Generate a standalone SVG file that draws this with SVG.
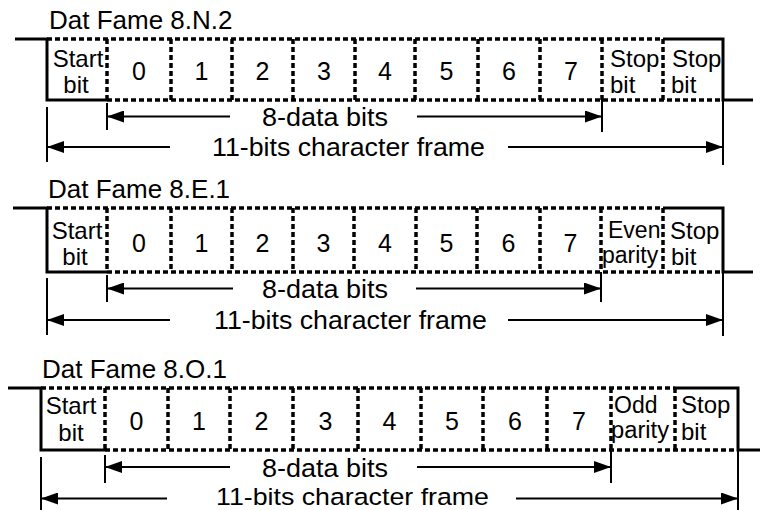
<svg xmlns="http://www.w3.org/2000/svg" width="760" height="510" viewBox="0 0 760 510">
<style>
text{font-family:"Liberation Sans",Arial,sans-serif;fill:#000}
.title{font-size:26px}
.cell{font-size:25px;text-anchor:middle}
.two{font-size:24px;text-anchor:middle}
.lbl{font-size:24px}
.sm{font-size:23px}
.arrlbl{font-size:26px}
.solid{fill:none;stroke:#000;stroke-width:3;stroke-linejoin:miter}
.dash{fill:none;stroke:#000;stroke-width:3.5;stroke-dasharray:5 3}
.arr{fill:none;stroke:#000;stroke-width:2;marker-end:url(#ah)}
.tick{fill:none;stroke:#000;stroke-width:2}
</style>
<defs>
<marker id="ah" markerUnits="userSpaceOnUse" markerWidth="18" markerHeight="12" refX="17" refY="6" orient="auto">
<path d="M0,0 L17,6 L0,12 z" fill="#000"/>
</marker>
</defs>
<rect width="760" height="510" fill="#fff"/>

<!-- Frame 1: 8.N.2 -->
<g id="frame-8N2">
<text class="title" x="49" y="29">Dat Fame 8.N.2</text>
<path class="solid" d="M15,39 H47 V100 H107"/>
<path class="dash" d="M47,39 H663"/>
<path class="solid" d="M663,39 H723 V100 H753"/>
<path class="dash" d="M107,100 H723"/>
<path class="dash" d="M107,39 V100 M171,39 V100 M232,39 V100 M293,39 V100 M355,39 V100 M415,39 V100 M478,39 V100 M540,39 V100 M602,39 V100 M663,39 V100"/>
<text class="two" x="78" y="67">Start</text>
<text class="two" x="76" y="93">bit</text>
<text class="cell" x="139" y="80">0</text>
<text class="cell" x="201.5" y="80">1</text>
<text class="cell" x="262.5" y="80">2</text>
<text class="cell" x="324" y="80">3</text>
<text class="cell" x="385" y="80">4</text>
<text class="cell" x="446.5" y="80">5</text>
<text class="cell" x="509" y="80">6</text>
<text class="cell" x="571" y="80">7</text>
<text class="lbl" x="610" y="67">Stop</text>
<text class="lbl" x="610" y="93">bit</text>
<text class="lbl" x="672" y="67">Stop</text>
<text class="lbl" x="671" y="93">bit</text>
<text class="arrlbl" x="262" y="126" textLength="126" lengthAdjust="spacingAndGlyphs">8-data bits</text>
<text class="arrlbl" x="212" y="156" textLength="273" lengthAdjust="spacingAndGlyphs">11-bits character frame</text>
</g>

<!-- Frame 2: 8.E.1 -->
<g id="frame-8E1">
<text class="title" x="48" y="198">Dat Fame 8.E.1</text>
<path class="solid" d="M13,208 H47 V272 H107"/>
<path class="dash" d="M47,208 H663"/>
<path class="solid" d="M663,208 H723 V272 H753"/>
<path class="dash" d="M107,272 H723"/>
<path class="dash" d="M107,208 V272 M171,208 V272 M232,208 V272 M293,208 V272 M354,208 V272 M416,208 V272 M477,208 V272 M540,208 V272 M601,208 V272 M663,208 V272"/>
<text class="two" x="77" y="239">Start</text>
<text class="two" x="75" y="265">bit</text>
<text class="cell" x="139" y="252">0</text>
<text class="cell" x="201.5" y="252">1</text>
<text class="cell" x="262.5" y="252">2</text>
<text class="cell" x="323.5" y="252">3</text>
<text class="cell" x="385" y="252">4</text>
<text class="cell" x="446.5" y="252">5</text>
<text class="cell" x="508.5" y="252">6</text>
<text class="cell" x="570.5" y="252">7</text>
<text class="sm" x="608" y="238">Even</text>
<text class="sm" x="602" y="263">parity</text>
<text class="lbl" x="670" y="239">Stop</text>
<text class="lbl" x="671" y="265">bit</text>
<text class="arrlbl" x="262" y="298" textLength="126" lengthAdjust="spacingAndGlyphs">8-data bits</text>
<text class="arrlbl" x="214" y="329" textLength="273" lengthAdjust="spacingAndGlyphs">11-bits character frame</text>
</g>

<!-- Frame 3: 8.O.1 -->
<g id="frame-8O1">
<text class="title" x="42" y="378">Dat Fame 8.O.1</text>
<path class="solid" d="M8,388 H41 V450 H105"/>
<path class="dash" d="M41,388 H675"/>
<path class="solid" d="M675,388 H738 V450 H760"/>
<path class="dash" d="M105,450 H738"/>
<path class="dash" d="M105,388 V450 M168,388 V450 M230,388 V450 M293,388 V450 M358,388 V450 M421,388 V450 M483,388 V450 M547,388 V450 M611,388 V450 M675,388 V450"/>
<text class="two" x="71" y="414">Start</text>
<text class="two" x="71" y="441">bit</text>
<text class="cell" x="136.5" y="430">0</text>
<text class="cell" x="199" y="430">1</text>
<text class="cell" x="261.5" y="430">2</text>
<text class="cell" x="325.5" y="430">3</text>
<text class="cell" x="389.5" y="430">4</text>
<text class="cell" x="452" y="430">5</text>
<text class="cell" x="515" y="430">6</text>
<text class="cell" x="579" y="430">7</text>
<text class="sm" x="614" y="413">Odd</text>
<text class="sm" x="611" y="438" textLength="58" lengthAdjust="spacingAndGlyphs">parity</text>
<text class="lbl" x="681" y="413">Stop</text>
<text class="lbl" x="681" y="440">bit</text>
<text class="arrlbl" x="262" y="477" textLength="126" lengthAdjust="spacingAndGlyphs">8-data bits</text>
<text class="arrlbl" x="216" y="505" style="font-size:24.5px" textLength="273" lengthAdjust="spacingAndGlyphs">11-bits character frame</text>
</g>

<!-- Connectors: dimension arrows and ticks -->
<g id="connectors">
<path class="tick" d="M107,103 V130 M47,107 V162 M602,100 V132 M723,100 V165"/>
<line class="arr" x1="230" y1="116.5" x2="107" y2="116.5"/>
<line class="arr" x1="417" y1="116.5" x2="602" y2="116.5"/>
<line class="arr" x1="170" y1="147" x2="47" y2="147"/>
<line class="arr" x1="508" y1="147" x2="723" y2="147"/>

<path class="tick" d="M107,275 V302 M47,278 V335 M601,272 V302 M723,272 V336"/>
<line class="arr" x1="233" y1="288.5" x2="107" y2="288.5"/>
<line class="arr" x1="416" y1="288.5" x2="601" y2="288.5"/>
<line class="arr" x1="170" y1="320" x2="47" y2="320"/>
<line class="arr" x1="508" y1="320" x2="723" y2="320"/>

<path class="tick" d="M105,455 V483 M41,457 V510 M611,450 V483 M738,450 V510"/>
<line class="arr" x1="230" y1="467" x2="105" y2="467"/>
<line class="arr" x1="417" y1="467" x2="611" y2="467"/>
<line class="arr" x1="167" y1="498.5" x2="41" y2="498.5"/>
<line class="arr" x1="516" y1="498.5" x2="738" y2="498.5"/>
</g>
</svg>
